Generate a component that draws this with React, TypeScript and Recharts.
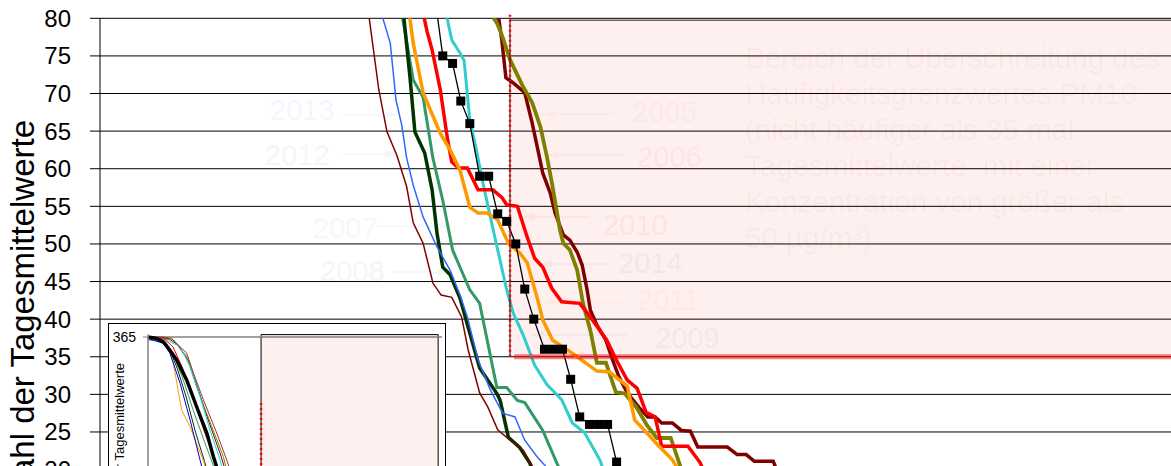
import { LineChart, Line, XAxis, YAxis, CartesianGrid, ReferenceArea, ReferenceLine } from 'recharts'

type Pt = [number, number]

const FONT = 'Arial, "Liberation Sans", sans-serif'

// main chart: concentration (µg/m³) -> number of daily means above it
const y2005: Pt[] = [[48.4, 81.8], [49.0, 77.1], [49.5, 72.1], [50.4, 71.4], [51.8, 70.1], [52.7, 66.1], [53.4, 62.5], [54.0, 59.4], [54.9, 56.8], [55.5, 54.1], [56.5, 51.2], [57.3, 50.5], [58.2, 48.9], [58.8, 47.2], [59.4, 43.9], [59.8, 41.2], [60.6, 39.2], [61.7, 37.2], [62.4, 34.9], [63.3, 32.3], [64.3, 30.2], [65.7, 28.3], [66.8, 27.0], [67.7, 27.0], [68.5, 26.2], [69.8, 26.2], [70.9, 25.2], [72.0, 25.1], [72.9, 23.0], [76.5, 23.0], [77.7, 22.0], [78.8, 22.0], [79.8, 21.1], [82.1, 21.1], [83.5, 17.3]]
const y2006: Pt[] = [[47.3, 81.1], [48.4, 79.4], [49.1, 77.5], [50.0, 74.5], [51.6, 70.9], [52.7, 68.8], [53.7, 65.6], [54.5, 61.6], [55.2, 57.6], [56.1, 51.8], [56.5, 50.1], [57.3, 49.2], [58.2, 46.5], [58.9, 42.1], [59.8, 38.5], [60.6, 34.2], [61.7, 34.2], [62.9, 30.3], [64.0, 30.1], [65.4, 28.3], [66.7, 25.9], [67.9, 24.2], [69.6, 24.2], [70.6, 21.0], [71.7, 17.3]]
const y2007: Pt[] = [[36.8, 80.7], [38.2, 71.8], [39.4, 69.5], [40.6, 61.4], [41.8, 55.8], [43.0, 49.2], [44.3, 45.9], [45.1, 43.9], [46.3, 42.1], [48.4, 30.9], [49.6, 30.9], [50.9, 29.2], [51.8, 28.9], [54.0, 25.2], [55.7, 20.9], [57.3, 17.2]]
const y2008: Pt[] = [[37.0, 80.7], [37.8, 72.2], [38.4, 64.9], [39.6, 62.1], [40.5, 57.2], [41.1, 51.4], [41.8, 46.9], [42.7, 45.9], [43.9, 42.8], [44.9, 38.9], [46.3, 33.5], [48.4, 30.1], [48.8, 29.2], [49.8, 24.3], [51.2, 22.9], [52.4, 20.9], [53.7, 17.2]]
const y2009: Pt[] = [[42.2, 80.7], [42.9, 77.1], [43.9, 75.4], [44.4, 74.4], [45.1, 66.5], [45.9, 62.5], [46.7, 58.1], [47.6, 53.6], [48.5, 49.2], [49.6, 43.9], [50.4, 40.8], [51.6, 37.9], [53.0, 33.9], [54.5, 31.3], [56.3, 29.3], [57.6, 26.2], [59.1, 24.9], [61.0, 21.2], [62.2, 17.3]]
const y2010: Pt[] = [[39.4, 80.7], [39.9, 78.2], [40.5, 75.8], [41.5, 70.5], [42.4, 63.8], [42.9, 60.9], [43.7, 60.1], [44.8, 60.1], [46.1, 57.2], [47.9, 57.2], [49.0, 56.2], [49.6, 55.2], [50.9, 55.0], [52.1, 50.9], [53.0, 48.1], [54.0, 46.9], [55.1, 44.1], [56.3, 42.3], [58.5, 42.1], [59.8, 40.3], [61.8, 37.2], [63.0, 34.5], [64.3, 31.9], [65.5, 30.8], [66.6, 27.6], [67.7, 27.0], [68.5, 23.1], [71.7, 23.1], [73.2, 20.9], [74.6, 17.2]]
const y2011: Pt[] = [[37.7, 80.7], [38.2, 76.7], [39.4, 70.1], [41.5, 64.7], [42.7, 62.5], [43.9, 59.8], [45.1, 54.9], [46.1, 54.1], [47.2, 54.1], [48.5, 53.2], [49.8, 50.1], [51.2, 48.8], [52.1, 47.5], [53.3, 42.9], [54.0, 39.9], [55.2, 37.2], [57.0, 35.9], [58.2, 35.0], [60.6, 33.1], [62.1, 33.0], [64.3, 31.1], [65.2, 26.6], [66.5, 25.1], [68.0, 23.3], [69.8, 21.3], [71.3, 18.6]]
const y2012: Pt[] = [[32.7, 81.1], [34.0, 70.5], [35.0, 64.9], [36.2, 61.8], [37.4, 57.6], [38.2, 52.8], [39.4, 50.1], [40.6, 44.8], [41.6, 43.2], [42.9, 42.9], [44.1, 40.3], [44.9, 35.9], [46.3, 30.2], [47.3, 28.3], [48.5, 25.3], [50.0, 23.9], [51.6, 22.6], [52.7, 20.5], [54.3, 16.6]]
const y2013: Pt[] = [[34.3, 80.7], [35.4, 76.7], [36.1, 69.1], [36.8, 65.8], [37.4, 61.4], [38.2, 57.8], [39.4, 53.6], [41.1, 49.6], [42.7, 46.5], [43.9, 43.2], [44.8, 40.3], [46.1, 34.6], [47.6, 30.6], [49.1, 27.5], [50.6, 27.0], [51.8, 23.9], [53.3, 21.7], [54.3, 20.5], [56.1, 17.3]]
const y2014: Pt[] = [[40.8, 83.1], [41.8, 75], [43.0, 74], [44.0, 69], [45.1, 66], [46.3, 59], [47.4, 59], [48.5, 54], [49.6, 53], [50.7, 50], [51.8, 44], [52.9, 40], [54.2, 36], [55.3, 36], [56.4, 36], [57.4, 32], [58.5, 27], [59.7, 26], [60.8, 26], [61.9, 26], [63.0, 21], [64.2, 16]]

const yTicks = [0, 5, 10, 15, 20, 25, 30, 35, 40, 45, 50, 55, 60, 65, 70, 75, 80]

// inset: whole year, concentration -> days
const i2005: Pt[] = [[0, 365], [9, 362], [13, 350], [18, 315], [22, 260], [27, 190], [32, 125], [35, 80]]
const i2006: Pt[] = [[0, 365], [11.2, 359], [17.1, 325], [21.5, 263], [25.9, 209], [33.3, 120], [36, 70]]
const i2007: Pt[] = [[0, 359], [7.5, 356], [10, 340], [15, 285], [20, 215], [25, 150], [29, 100]]
const i2008: Pt[] = [[0, 365], [6, 360], [9, 345], [13, 300], [17, 240], [21, 170], [25, 110], [28, 60]]
const i2009: Pt[] = [[0, 365], [8.3, 359], [14.2, 345], [18.6, 304], [23.0, 243], [27.4, 174], [31.9, 113], [35, 60]]
const i2010: Pt[] = [[0, 365], [7, 362], [11, 345], [15, 305], [20, 240], [25, 170], [29.5, 115], [33, 65]]
const i2011: Pt[] = [[0, 363], [5.3, 359], [8.3, 352], [11.2, 311], [14.9, 215], [18.6, 181], [24.5, 111], [28, 60]]
const i2012: Pt[] = [[0, 365], [6.8, 365], [10.5, 362], [14.2, 345], [17.1, 332], [20.1, 291], [24.5, 236], [30.4, 168], [34.8, 113], [38, 70]]
const i2013: Pt[] = [[0, 362], [6.8, 352], [9.7, 332], [14.2, 270], [18.6, 195], [23.0, 113], [26, 60]]
const i2014: Pt[] = [[0, 365], [3.8, 362], [6.8, 355], [9.7, 338], [12.7, 318], [17.1, 277], [21.5, 222], [26.0, 168], [28.9, 120], [33, 60]]

const rows = (pts: Pt[]) => pts.map(([c, n]) => ({ c, n }))

const mainSeries = [
  { name: '2005', data: y2005, color: '#800000', width: 3.5 },
  { name: '2006', data: y2006, color: '#808000', width: 3.8 },
  { name: '2007', data: y2007, color: '#339966', width: 3 },
  { name: '2008', data: y2008, color: '#003300', width: 3.5 },
  { name: '2009', data: y2009, color: '#33CCCC', width: 3 },
  { name: '2010', data: y2010, color: '#FF0000', width: 3.5 },
  { name: '2011', data: y2011, color: '#FF9900', width: 3.5 },
  { name: '2012', data: y2012, color: '#800000', width: 1.5 },
  { name: '2013', data: y2013, color: '#3366FF', width: 1.5 },
]

const insetSeries = [
  { name: '2005', data: i2005, color: '#800000', width: 1 },
  { name: '2006', data: i2006, color: '#808000', width: 1 },
  { name: '2007', data: i2007, color: '#339966', width: 1 },
  { name: '2008', data: i2008, color: '#003300', width: 1 },
  { name: '2009', data: i2009, color: '#00E5E5', width: 1 },
  { name: '2010', data: i2010, color: '#FF0000', width: 1 },
  { name: '2011', data: i2011, color: '#FF9900', width: 1 },
  { name: '2012', data: i2012, color: '#993333', width: 1 },
  { name: '2013', data: i2013, color: '#0000DD', width: 1 },
  { name: '2014', data: i2014, color: '#000000', width: 3.5 },
]

// faint year labels with their arrows
const yearNotes = [
  { label: '2013', color: '#3366FF', op: 0.05, tx: 270, ty: 110, x1: 343, x2: 397, ay: 115, head: 'right' },
  { label: '2012', color: '#800000', op: 0.04, tx: 265, ty: 155, x1: 343, x2: 397, ay: 154, head: 'right' },
  { label: '2007', color: '#339966', op: 0.05, tx: 313, ty: 228, x1: 377, x2: 450, ay: 226, head: 'right' },
  { label: '2008', color: '#003300', op: 0.04, tx: 320, ty: 271, x1: 392, x2: 450, ay: 272, head: 'right' },
  { label: '2005', color: '#804000', op: 0.035, tx: 632, ty: 112, x1: 543, x2: 613, ay: 114, head: 'left' },
  { label: '2006', color: '#800000', op: 0.035, tx: 637, ty: 157, x1: 547, x2: 627, ay: 155, head: 'left' },
  { label: '2010', color: '#FF0000', op: 0.06, tx: 603, ty: 225, x1: 523, x2: 590, ay: 217, head: 'left' },
  { label: '2014', color: '#000000', op: 0.035, tx: 618, ty: 263, x1: 540, x2: 612, ay: 264, head: 'left' },
  { label: '2011', color: '#FF9900', op: 0.06, tx: 637, ty: 300, x1: 543, x2: 627, ay: 302, head: 'left' },
  { label: '2009', color: '#000000', op: 0.03, tx: 655, ty: 338, x1: 532, x2: 627, ay: 335, head: 'left' },
]

const noteLines = [
  'Bereich der Überschreitung des',
  'Häufigkeitsgrenzwertes PM10:',
  '(nicht häufiger als 35 mal',
  'Tagesmittelwerte  mit einer',
  'Konzentration von größer als',
  '50 µg/m³)',
]

const square = (p: any) => {
  const { cx, cy, payload, index } = p
  if (cx == null || payload.n > 80) return <g key={index} />
  return <rect key={index} x={cx - 4.5} y={cy - 4.5} width={9} height={9} fill="#000" />
}

function Notes() {
  return (
    <svg width={1171} height={466} style={{ position: 'absolute', left: 0, top: 0, pointerEvents: 'none' }}>
      {yearNotes.map((n) => {
        const tip = n.head === 'right' ? n.x2 : n.x1
        const d = n.head === 'right' ? -1 : 1
        return (
          <g key={n.label} fill={n.color} stroke={n.color} opacity={n.op}>
            <text x={n.tx} y={n.ty} dominantBaseline="central" fontSize={29} stroke="none" fontFamily={FONT}>
              {n.label}
            </text>
            <line x1={n.x1} x2={n.x2} y1={n.ay} y2={n.ay} strokeWidth={1.5} />
            <polygon points={`${tip},${n.ay} ${tip + d * 12},${n.ay - 4} ${tip + d * 12},${n.ay + 4}`} stroke="none" />
          </g>
        )
      })}
      <text fontSize={29.5} fontFamily={FONT} fill="#400000" fillOpacity={0.04} style={{ whiteSpace: 'pre' }}>
        {noteLines.map((t, i) => (
          <tspan key={i} x={745} y={68 + i * 36}>
            {t}
          </tspan>
        ))}
      </text>
      <text
        x={34}
        y={120}
        transform="rotate(-90 34 120)"
        textAnchor="end"
        fontSize={33}
        fontFamily={FONT}
        fill="#000"
      >
        Anzahl der Tagesmittelwerte
      </text>
    </svg>
  )
}

function Inset() {
  return (
    <div
      style={{
        position: 'absolute',
        left: 108,
        top: 323,
        width: 338,
        height: 220,
        boxSizing: 'border-box',
        border: '1px solid #000',
        background: '#fff',
      }}
    >
      <div style={{ position: 'absolute', left: 0, top: 0 }}>
        <LineChart width={335} height={196} margin={{ top: 10.6, right: 2, bottom: 5, left: 0 }} style={{ fontFamily: FONT }}>
          <XAxis type="number" dataKey="c" domain={[0, 130]} hide allowDataOverflow />
          <YAxis
            type="number"
            dataKey="n"
            domain={[0, 370]}
            ticks={[0, 365]}
            width={39}
            tickSize={5}
            tickMargin={7}
            interval={0}
            allowDataOverflow
            axisLine={{ stroke: '#808080', strokeWidth: 1.5 }}
            tickLine={{ stroke: '#808080' }}
            tick={{ fontSize: 14, fill: '#000' }}
          />
          <ReferenceArea x1={50} x2={128.3} y1={0} y2={370} fill="#FF0000" fillOpacity={0.06} stroke="#000" strokeWidth={1} />
          <ReferenceLine y={365} stroke="#808080" strokeWidth={1.5} />
          {insetSeries.map((s) => (
            <Line
              key={s.name}
              data={rows(s.data)}
              dataKey="n"
              type="linear"
              stroke={s.color}
              strokeWidth={s.width}
              dot={false}
              activeDot={false}
              isAnimationActive={false}
            />
          ))}
          <ReferenceLine
            segment={[{ x: 50, y: 0 }, { x: 50, y: 236 }]}
            stroke="#FF0000"
            strokeWidth={2.5}
            strokeDasharray="2 3"
          />
        </LineChart>
      </div>
      <svg width={30} height={200} style={{ position: 'absolute', left: 0, top: 0 }}>
        <text
          x={14.5}
          y={39}
          transform="rotate(-90 14.5 39)"
          textAnchor="end"
          fontSize={13}
          fontFamily={FONT}
          fill="#000"
        >
          Anzahl der Tagesmittelwerte
        </text>
      </svg>
    </div>
  )
}

export default function App() {
  return (
    <div
      style={{
        position: 'fixed',
        left: 0,
        top: 0,
        width: 1171,
        height: 466,
        overflow: 'hidden',
        background: '#fff',
        fontFamily: FONT,
      }}
    >
      <div style={{ position: 'absolute', left: 0, top: 0 }}>
        <LineChart width={1250} height={625} margin={{ top: 18.3, right: 2, bottom: 5, left: 0 }} style={{ fontFamily: FONT }}>
          <CartesianGrid vertical={false} stroke="#000" strokeWidth={1} />
          <XAxis type="number" dataKey="c" domain={[0, 140]} hide allowDataOverflow />
          <YAxis
            type="number"
            dataKey="n"
            domain={[0, 80]}
            ticks={yTicks}
            interval={0}
            width={100}
            tickSize={10}
            tickMargin={19}
            allowDataOverflow
            axisLine={{ stroke: '#000' }}
            tickLine={{ stroke: '#000' }}
            tick={{ fontSize: 24, fill: '#000' }}
          />
          <ReferenceArea x1={50} x2={140} y1={35} y2={80} fill="#FF0000" fillOpacity={0.06} />
          {mainSeries.map((s) => (
            <Line
              key={s.name}
              data={rows(s.data)}
              dataKey="n"
              type="linear"
              stroke={s.color}
              strokeWidth={s.width}
              dot={false}
              activeDot={false}
              isAnimationActive={false}
            />
          ))}
          <Line
            data={rows(y2014)}
            dataKey="n"
            type="linear"
            stroke="#000"
            strokeWidth={1.3}
            dot={square}
            activeDot={false}
            isAnimationActive={false}
          />
          <ReferenceLine segment={[{ x: 50, y: 79.75 }, { x: 140, y: 79.75 }]} stroke="#222" strokeWidth={1} />
          <ReferenceLine segment={[{ x: 50, y: 35 }, { x: 50, y: 80 }]} stroke="#000" strokeWidth={1} />
          <ReferenceLine
            segment={[{ x: 50.5, y: 35 }, { x: 140, y: 35 }]}
            stroke="#FF0000"
            strokeOpacity={0.5}
            strokeWidth={5}
          />
          <ReferenceLine
            segment={[{ x: 50, y: 35 }, { x: 50, y: 80.85 }]}
            stroke="#FF0000"
            strokeWidth={2.5}
            strokeDasharray="2 3"
            ifOverflow="visible"
          />
        </LineChart>
      </div>
      <Notes />
      <Inset />
    </div>
  )
}
